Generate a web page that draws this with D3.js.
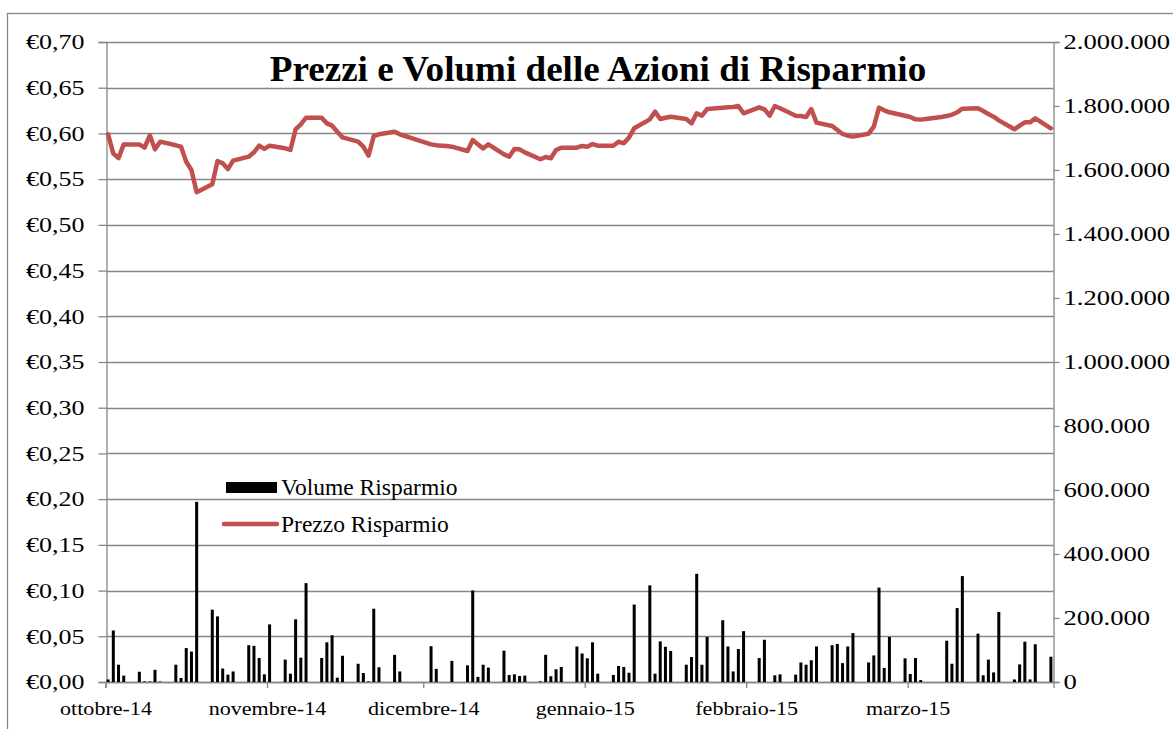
<!DOCTYPE html>
<html>
<head>
<meta charset="utf-8">
<script src="https://cdn.jsdelivr.net/npm/d3@7"></script>
<style>
body { margin: 0; background: #fff; }
text { font-family: "Liberation Serif", "Times New Roman", serif; }
</style>
</head>
<body>
<div id="chart-container"></div>
<script>
// trading days: weekdays from first to last day
const firstDay = "2014-09-30";
const lastDay = "2015-03-30";

const volumes = [
    8000,
    // ottobre
    161000, 54000, 20000, 32000, 2000, 1500, 38000, 1500, 54000, 12500, 106000, 95000, 563000,
    226000, 205000, 42000, 23000, 33000, 115000, 113000, 75000, 24000, 180000,
    // novembre
    70000, 26000, 196000, 76000, 309000, 75000, 124000, 146000, 13500, 82000,
    57000, 28000, 2000, 229000, 46000, 85000, 33000, 0, 0, 0,
    // dicembre
    112000, 41000, 0, 0, 66000, 52000, 286000, 16000, 54000, 45000, 98000, 22000,
    24000, 19000, 20000, 2000, 85000, 18000, 40000, 47000, 111000, 89000, 74000,
    // gennaio
    124000, 26000, 22000, 50000, 47000, 29000, 242000, 302000, 26000, 127000, 110000,
    97000, 54000, 78000, 338000, 54000, 141000, 193000, 111000, 33000, 103000, 159000,
    // febbraio
    75000, 132000, 0, 21000, 24000, 23000, 61000, 54000, 68000, 111000,
    115000, 119000, 59000, 111000, 153000, 61000, 83000, 295000, 44000, 141000,
    // marzo
    74000, 25000, 75000, 6000, 0, 0, 129000, 57000, 231000, 331000, 151000,
    21000, 70000, 30000, 219000, 8000, 55000, 126000, 8000, 118000, 79000
];

const prices = [
    0.599,
    0.578, 0.573, 0.588, 0.588, 0.5845, 0.598, 0.5826, 0.591, 0.587, 0.5855, 0.569, 0.560, 0.5356,
    0.5443, 0.5698, 0.5673, 0.561, 0.5702, 0.5746, 0.5793, 0.5866, 0.583, 0.5866,
    0.5837, 0.5819, 0.6045, 0.610, 0.6172, 0.6172, 0.611, 0.6085, 0.6019, 0.5957,
    0.591, 0.5855, 0.5757, 0.5972, 0.599, 0.6019, 0.599, 0.5972, 0.5954, 0.5936,
    0.588, 0.587, 0.5866, 0.5863, 0.5855, 0.5808, 0.5928, 0.588, 0.5837, 0.588, 0.5771, 0.5746,
    0.583, 0.5826, 0.5793, 0.5717, 0.5742, 0.5728, 0.5819, 0.5844, 0.5844, 0.5863, 0.5855,
    0.5884, 0.5866, 0.5866, 0.591, 0.5892, 0.5954, 0.6056, 0.6154, 0.6238, 0.6158, 0.6172,
    0.6183, 0.6158, 0.611, 0.622, 0.6194, 0.6267, 0.6282, 0.6285, 0.6289, 0.630, 0.622,
    0.6285, 0.6264, 0.6194, 0.630, 0.6275, 0.6194, 0.619, 0.618, 0.6267, 0.6118,
    0.6081, 0.6037, 0.5994, 0.5975, 0.5965, 0.5997, 0.6074, 0.6282, 0.6253, 0.6231,
    0.6194, 0.618, 0.6154, 0.6151, 0.6158, 0.618, 0.619, 0.6205, 0.6231, 0.6271, 0.6275,
    0.6245, 0.6212, 0.6183, 0.6143, 0.6045, 0.6085, 0.6121, 0.6121, 0.6165, 0.6056
];

const priceTicks = [0, 0.05, 0.10, 0.15, 0.20, 0.25, 0.30, 0.35, 0.40, 0.45, 0.50, 0.55, 0.60, 0.65, 0.70];
const volumeTicks = [0, 200000, 400000, 600000, 800000, 1000000, 1200000, 1400000, 1600000, 1800000, 2000000];
const monthTickDays = ["2014-09-30", "2014-10-31", "2014-11-30", "2014-12-31", "2015-01-31", "2015-03-03"];
const monthLabels = ["ottobre-14", "novembre-14", "dicembre-14", "gennaio-15", "febbraio-15", "marzo-15"];

const parseDay = d3.utcParse("%Y-%m-%d");
const dates = d3.utcDay.range(parseDay(firstDay), d3.utcDay.offset(parseDay(lastDay), 1))
    .filter(d => d.getUTCDay() !== 0 && d.getUTCDay() !== 6);

const data = dates.map((d, i) => ({ date: d, volume: volumes[i], price: prices[i] }));

const W = 1173, H = 729;
const plot = { left: 106.5, right: 1053.5, top: 42, bottom: 682 };
const gridColor = "#868686";

const it = d3.formatLocale({ decimal: ",", thousands: ".", grouping: [3], currency: ["€", ""] });
const fmtPrice = it.format("$.2f");
const fmtVol = it.format(",d");

// the axis numbers in the reference are drawn wider than normal
function widen(sel, k) {
    sel.each(function () {
        const w = this.getComputedTextLength();
        d3.select(this)
            .attr("textLength", w * k)
            .attr("lengthAdjust", "spacingAndGlyphs");
    });
}

const svg = d3.select("#chart-container").append("svg")
    .attr("width", W).attr("height", H);

// outer chart border
svg.append("rect")
    .attr("x", 7.5).attr("y", 13.5)
    .attr("width", W + 10).attr("height", H + 10)
    .attr("fill", "none").attr("stroke", gridColor).attr("stroke-width", 1.3);

const x = d3.scaleUtc()
    .domain([d3.utcHour.offset(dates[0], -12), d3.utcHour.offset(dates[dates.length - 1], 12)])
    .range([plot.left - 1, plot.right]);

const yPrice = d3.scaleLinear().domain([0, 0.7]).range([plot.bottom, plot.top]);
const yVol = d3.scaleLinear().domain([0, 2000000]).range([plot.bottom, plot.top]);

// gridlines
svg.append("g").selectAll("line")
    .data(priceTicks)
    .enter().append("line")
    .attr("x1", plot.left).attr("x2", plot.right)
    .attr("y1", d => Math.round(yPrice(d)) + 0.5)
    .attr("y2", d => Math.round(yPrice(d)) + 0.5)
    .attr("stroke", gridColor).attr("stroke-width", 1.3);

function styleAxis(g) {
    g.selectAll("path").attr("stroke", gridColor).attr("stroke-width", 1.3);
    g.selectAll("line").attr("stroke", gridColor).attr("stroke-width", 1.3);
    g.selectAll("text").attr("font-family", "Liberation Serif").attr("fill", "#000");
}

svg.append("g")
    .attr("transform", `translate(${plot.left},0)`)
    .call(d3.axisLeft(yPrice).tickValues(priceTicks).tickFormat(fmtPrice).tickSizeOuter(0).tickSize(8).tickPadding(14))
    .call(styleAxis)
    .selectAll("text").attr("font-size", 20).attr("dy", "0.34em")
    .call(widen, 1.3);

svg.append("g")
    .attr("transform", `translate(${plot.right},0)`)
    .call(d3.axisRight(yVol).tickValues(volumeTicks).tickFormat(fmtVol).tickSizeOuter(0).tickSize(6).tickPadding(4))
    .call(styleAxis)
    .selectAll("text").attr("font-size", 20.5).attr("dy", "0.34em")
    .call(widen, 1.3);

svg.append("g")
    .attr("transform", `translate(0,${plot.bottom})`)
    .call(d3.axisBottom(x)
        .tickValues(monthTickDays.map(d => d3.utcHour.offset(parseDay(d), -12)))
        .tickFormat((d, i) => monthLabels[i])
        .tickSizeOuter(0).tickSize(6).tickPadding(14))
    .call(styleAxis)
    .selectAll("text").attr("font-size", 19)
    .call(widen, 1.16);

// volume bars
svg.append("g").selectAll(".bar")
    .data(data.filter(d => d.volume > 0))
    .enter().append("rect")
    .attr("class", "bar")
    .attr("x", d => x(d.date) - 1.5)
    .attr("width", 3)
    .attr("y", d => yVol(d.volume))
    .attr("height", d => plot.bottom - yVol(d.volume))
    .attr("fill", "#000");

// price line
const line = d3.line()
    .x(d => x(d.date))
    .y(d => yPrice(d.price));

svg.append("path")
    .datum(data)
    .attr("d", line)
    .attr("fill", "none")
    .attr("stroke", "#c0504d")
    .attr("stroke-width", 4.5)
    .attr("stroke-linejoin", "round")
    .attr("stroke-linecap", "round");

// title
svg.append("text")
    .attr("x", 598).attr("y", 81)
    .attr("text-anchor", "middle")
    .attr("font-size", 36).attr("font-weight", "bold")
    .text("Prezzi e Volumi delle Azioni di Risparmio")
    .call(widen, 1.03);

// legend
const legend = svg.append("g");
legend.append("rect")
    .attr("x", 226).attr("y", 482).attr("width", 51).attr("height", 11)
    .attr("fill", "#000");
legend.append("text")
    .attr("x", 281).attr("y", 495).attr("font-size", 23.5)
    .text("Volume Risparmio");
legend.append("line")
    .attr("x1", 224).attr("x2", 277).attr("y1", 524).attr("y2", 524)
    .attr("stroke", "#c0504d").attr("stroke-width", 4.5).attr("stroke-linecap", "round");
legend.append("text")
    .attr("x", 281).attr("y", 532).attr("font-size", 23.5)
    .text("Prezzo Risparmio");
</script>
</body>
</html>
